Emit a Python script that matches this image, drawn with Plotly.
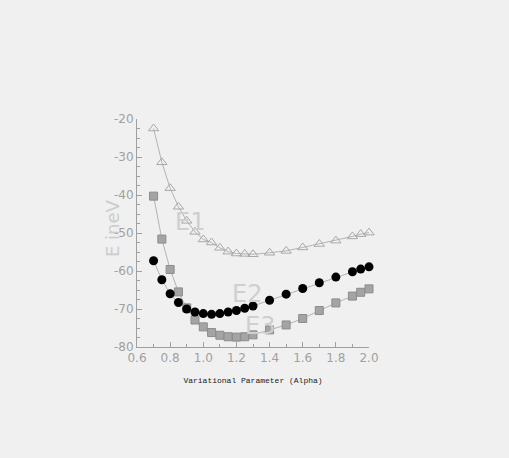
import plotly.graph_objects as go

alpha = [0.70, 0.75, 0.80, 0.85, 0.90, 0.95, 1.00, 1.05, 1.10, 1.15, 1.20, 1.25, 1.30,
         1.40, 1.50, 1.60, 1.70, 1.80, 1.90, 1.95, 2.00]
e1 = [-22.5, -31.4, -38.2, -43.1, -46.8, -49.7, -51.7, -52.5, -53.9, -54.9, -55.4, -55.5, -55.6,
      -55.2, -54.7, -53.8, -52.9, -52.0, -50.9, -50.3, -49.9]
e2 = [-57.3, -62.3, -66.0, -68.3, -70.0, -70.8, -71.2, -71.4, -71.2, -70.8, -70.4, -69.8, -69.2,
      -67.7, -66.1, -64.6, -63.1, -61.6, -60.2, -59.5, -58.9]
e3 = [-40.3, -51.6, -59.6, -65.5, -69.7, -72.9, -74.7, -76.2, -76.9, -77.3, -77.4, -77.3, -76.8,
      -75.5, -74.2, -72.5, -70.4, -68.4, -66.6, -65.6, -64.7]

labels = [("E1", 0.917, -47.1), ("E2", 1.262, -66.1), ("E3", 1.34, -74.5)]
ytick_vals = [-80, -70, -60, -50, -40, -30, -20]
ytick_text = ["-80", "-70", "-60", "-50", "-40", "-30", "-20"]

fig = go.Figure()
fig.add_trace(go.Scatter(x=alpha, y=e1, mode="lines+markers",
                         line=dict(color="#b4b4b4", width=1),
                         marker=dict(symbol="triangle-up-open", size=9, color="#a8a8a8",
                                     line=dict(width=1)),
                         cliponaxis=False, showlegend=False))
fig.add_trace(go.Scatter(x=alpha, y=e3, mode="lines+markers",
                         line=dict(color="#b4b4b4", width=1),
                         marker=dict(symbol="square", size=8, color="#a4a4a4",
                                     line=dict(color="#8c8c8c", width=1)),
                         cliponaxis=False, showlegend=False))
fig.add_trace(go.Scatter(x=alpha, y=e2, mode="lines+markers",
                         line=dict(color="#b4b4b4", width=1),
                         marker=dict(symbol="circle", size=9, color="#000000"),
                         cliponaxis=False, showlegend=False))

for t, x, y in labels:
    fig.add_annotation(x=x, y=y, text=t, showarrow=False,
                       font=dict(family="DejaVu Sans", size=24, color="#cfcfcf"))

fig.add_annotation(xref="paper", yref="paper", x=-0.105, y=0.52, text="E ineV",
                   textangle=-90, showarrow=False, xanchor="center", yanchor="middle",
                   font=dict(family="DejaVu Sans", size=18, color="#cccccc"))

axis_common = dict(showline=True, linecolor="#a0a0a0", linewidth=1, showgrid=False,
                   zeroline=False, ticks="inside", ticklen=5, tickcolor="#a0a0a0",
                   tickfont=dict(family="DejaVu Sans", size=12, color="#a0a0a0"))

fig.update_xaxes(range=[0.6, 2.0], dtick=0.2, tickformat=".1f",
                 minor=dict(dtick=0.1, ticks="inside", ticklen=3, tickcolor="#a0a0a0"),
                 title=dict(text="Variational Parameter (Alpha)", standoff=12,
                            font=dict(family="Liberation Mono", size=8, color="#222222")),
                 **axis_common)
fig.update_yaxes(range=[-80, -20], tickvals=ytick_vals, ticktext=ytick_text,
                 minor=dict(dtick=2.5, ticks="inside", ticklen=3, tickcolor="#a0a0a0"),
                 **axis_common)

fig.update_layout(width=509, height=458, margin=dict(l=137, r=140, t=119, b=111),
                  paper_bgcolor="#f0f0f0", plot_bgcolor="#f0f0f0")
fig.write_html("out.html", config={"displayModeBar": False},
               post_script="document.body.style.margin='0';document.body.style.background='#f0f0f0';")
